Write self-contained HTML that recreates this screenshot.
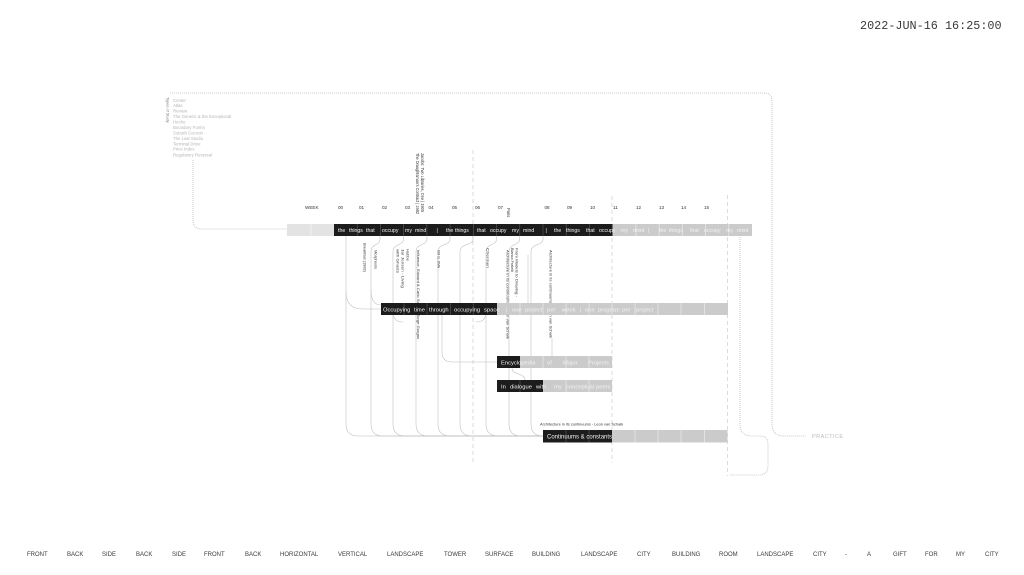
<!DOCTYPE html>
<html>
<head>
<meta charset="utf-8">
<style>
  html,body{margin:0;padding:0;background:#fff;}
  body{width:1024px;height:575px;overflow:hidden;}
  svg{display:block;}
  text{font-family:"Liberation Sans",sans-serif;}
  .mono{font-family:"Liberation Mono",monospace;}
</style>
</head>
<body>
<svg width="1024" height="575" viewBox="0 0 1024 575" xmlns="http://www.w3.org/2000/svg">
  <rect width="1024" height="575" fill="#fff"/>

  <!-- date -->
  <text class="mono" x="860" y="29" font-size="11.8" fill="#3a3a3a">2022-JUN-16 16:25:00</text>

  <!-- top-left list -->
  <text transform="translate(166.5,97) rotate(90)" font-size="3.9" fill="#777">Types of Study</text>
  <g font-size="4.3" fill="#b5b5b5">
    <text x="173" y="102">Center</text>
    <text x="173" y="107">Atlas</text>
    <text x="173" y="112.5">Review</text>
    <text x="173" y="118">The Generic &amp; the Exceptional</text>
    <text x="173" y="123.5">Hecho</text>
    <text x="173" y="129">Boundary Forms</text>
    <text x="173" y="134.5">Suburb Cocoon</text>
    <text x="173" y="140">The Last Studio</text>
    <text x="173" y="145.3">Terminal Drive</text>
    <text x="173" y="150.7">Price Index</text>
    <text x="173" y="156.5">Regulatory Reversal</text>
  </g>

  <!-- dotted connectors -->
  <g fill="none" stroke="#9a9a9a" stroke-width="0.55" stroke-dasharray="1 1">
    <path d="M170,93 H764 Q772,93 772,101 V424 Q772,436 784,436 H806"/>
    <path d="M193,160 V220 Q193,229 202,229 H288"/>
    <path d="M740,237 V424 Q740,436 752,436 H760 Q768,436 768,444 V466 Q768,475 759,475 H729"/>
  </g>
  <text x="812" y="438" font-size="5.6" fill="#bdbdbd" letter-spacing="0.4">PRACTICE</text>

  <!-- dashed column guides -->
  <g stroke="#c4c4c4" stroke-width="0.6" stroke-dasharray="4 3" fill="none">
    <line x1="473" y1="150" x2="473" y2="463"/>
    <line x1="612" y1="196" x2="612" y2="463"/>
    <line x1="727.5" y1="195" x2="727.5" y2="476"/>
  </g>

  <!-- connectors -->
  <g fill="none" stroke="#bdbdbd" stroke-width="0.55">
    <!-- long lines to Continuums -->
    <path d="M346,236 V424 Q346,436 358,436 H543"/>
    <path d="M380,236 V239 C380,246 371,243 371,252 V424 Q371,436 383,436 H543"/>
    <path d="M403.5,236 V239 C403.5,246 393,243 393,252 V424 Q393,436 405,436 H543"/>
    <path d="M427,236 V239 C427,246 416,243 416,252 V424 Q416,436 428,436 H543"/>
    <path d="M450,236 V239 C450,246 438,243 438,252 V424 Q438,436 450,436 H543"/>
    <path d="M473,236 V239 C473,246 460,243 460,252 V424 Q460,436 472,436 H543"/>
    <path d="M496.5,236 V239 C496.5,246 486,243 486,252 V424 Q486,436 498,436 H543"/>
    <path d="M519.5,236 V239 C519.5,246 509,243 509,252 V424 Q509,436 521,436 H543"/>
    <path d="M543,236 V239 C543,246 531,243 531,252 V424 Q531,436 543,436"/>
    <!-- branches into middle bar -->
    <path d="M346,292 Q346,309 363,309 H381"/>
    <path d="M371,290 Q371,305 381,305"/>
    <!-- under middle bar -->
    <path d="M393,312 Q393,322 403,322"/>
    <path d="M486,312 Q486,322 476,322"/>
    <!-- to Encyclopedia -->
    <path d="M442,315 V352 Q442,362 452,362 H497"/>
    <!-- Encyclopedia to In dialogue -->
    <path d="M512,368 C512,375 525,373 525,380"/>
    <line x1="552" y1="338" x2="552" y2="356"/>
    <line x1="528" y1="255" x2="528" y2="303"/>
  </g>

  <!-- WEEK row -->
  <g font-size="4.6" fill="#333">
    <text x="305" y="209">WEEK</text>
    <text x="338" y="209">00</text>
    <text x="359" y="209">01</text>
    <text x="382" y="209">02</text>
    <text x="405" y="209">03</text>
    <text x="428.5" y="209">04</text>
    <text x="452" y="209">05</text>
    <text x="475" y="209">06</text>
    <text x="498" y="209">07</text>
    <text x="544.5" y="209">08</text>
    <text x="567" y="209">09</text>
    <text x="590" y="209">10</text>
    <text x="613" y="209">11</text>
    <text x="636" y="209">12</text>
    <text x="659" y="209">13</text>
    <text x="681" y="209">14</text>
    <text x="704" y="209">15</text>
  </g>

  <!-- vertical labels above bar -->
  <g font-size="4.1" fill="#333">
    <text transform="translate(421,153) rotate(90)" textLength="59" lengthAdjust="spacingAndGlyphs">Jacobs: Two Libraries, One | 1905</text>
    <text transform="translate(416,153) rotate(90)" textLength="61" lengthAdjust="spacingAndGlyphs">The Draughtsman's Contract | 1982</text>
    <text transform="translate(507,208) rotate(90)">Paris</text>
  </g>

  <!-- TOP BAR -->
  <rect x="287" y="224" width="47" height="12" fill="#e3e3e3"/>
  <line x1="311" y1="224" x2="311" y2="236" stroke="#f4f4f4" stroke-width="0.8"/>
  <rect x="334" y="224" width="278.5" height="12" fill="#1c1c1c"/>
  <rect x="612.5" y="224" width="139.5" height="12" fill="#cbcbcb"/>
  <g stroke="#5a5a5a" stroke-width="0.6">
    <line x1="357.2" y1="224" x2="357.2" y2="236"/>
    <line x1="380.4" y1="224" x2="380.4" y2="236"/>
    <line x1="403.7" y1="224" x2="403.7" y2="236"/>
    <line x1="426.9" y1="224" x2="426.9" y2="236"/>
    <line x1="450.1" y1="224" x2="450.1" y2="236"/>
    <line x1="473.3" y1="224" x2="473.3" y2="236"/>
    <line x1="496.6" y1="224" x2="496.6" y2="236"/>
    <line x1="519.8" y1="224" x2="519.8" y2="236"/>
    <line x1="543" y1="224" x2="543" y2="236"/>
    <line x1="566.2" y1="224" x2="566.2" y2="236"/>
    <line x1="589.4" y1="224" x2="589.4" y2="236"/>
  </g>
  <g stroke="#ececec" stroke-width="0.7">
    <line x1="635.9" y1="224" x2="635.9" y2="236"/>
    <line x1="659.1" y1="224" x2="659.1" y2="236"/>
    <line x1="682.3" y1="224" x2="682.3" y2="236"/>
    <line x1="705.6" y1="224" x2="705.6" y2="236"/>
    <line x1="728.8" y1="224" x2="728.8" y2="236"/>
  </g>
  <g font-size="5.2" fill="#f2f2f2">
    <text x="338" y="232">the</text>
    <text x="349" y="232">things</text>
    <text x="366" y="232">that</text>
    <text x="382" y="232">occupy</text>
    <text x="405" y="232">my</text>
    <text x="415" y="232">mind</text>
    <text x="436.5" y="232">|</text>
    <text x="446" y="232">the</text>
    <text x="455" y="232">things</text>
    <text x="477" y="232">that</text>
    <text x="490" y="232">occupy</text>
    <text x="512" y="232">my</text>
    <text x="523" y="232">mind</text>
    <text x="545.5" y="232">|</text>
    <text x="554" y="232">the</text>
    <text x="566" y="232">things</text>
    <text x="586" y="232">that</text>
    <text x="599" y="232">occupy</text>
    <text x="621" y="232">my</text>
    <text x="633" y="232">mind</text>
    <text x="648" y="232">|</text>
    <text x="659" y="232">the</text>
    <text x="669" y="232">things</text>
    <text x="690" y="232">that</text>
    <text x="704" y="232">occupy</text>
    <text x="726" y="232">my</text>
    <text x="737" y="232">mind</text>
  </g>

  <!-- vertical labels below bar -->
  <g font-size="4" fill="#3a3a3a">
    <text transform="translate(363.5,243) rotate(90)" textLength="29" lengthAdjust="spacingAndGlyphs">Breakfast (1982)</text>
    <text transform="translate(374.5,250) rotate(90)" textLength="19" lengthAdjust="spacingAndGlyphs">Morphosis</text>
    <text transform="translate(406.5,249) rotate(90)">Hubbe</text>
    <text transform="translate(401.5,249) rotate(90)" textLength="39" lengthAdjust="spacingAndGlyphs">Jar Jensen - Living</text>
    <text transform="translate(396.5,249) rotate(90)" textLength="24" lengthAdjust="spacingAndGlyphs">with Ghosts</text>
    <text transform="translate(417,250) rotate(90)" textLength="89" lengthAdjust="spacingAndGlyphs">Influence, Edward &amp; Carlo Scarpa, Jorge Gorgas</text>
    <text transform="translate(437.5,250) rotate(90)" textLength="18" lengthAdjust="spacingAndGlyphs">OM UL OMA</text>
    <text transform="translate(486.5,248) rotate(90)" textLength="20" lengthAdjust="spacingAndGlyphs">Chermen</text>
    <text transform="translate(515.5,248) rotate(90)" textLength="49" lengthAdjust="spacingAndGlyphs">From Models to Drawing -</text>
    <text transform="translate(511,248) rotate(90)" textLength="24" lengthAdjust="spacingAndGlyphs">Bianca Fratelli</text>
    <text transform="translate(506.5,250) rotate(90)" textLength="89" lengthAdjust="spacingAndGlyphs">Architecture in its continuums - Leon van Schaik</text>
    <text transform="translate(549.5,250) rotate(90)" textLength="88" lengthAdjust="spacingAndGlyphs">Architecture in its continuums - Leon van Schaik</text>
  </g>

  <!-- MIDDLE BAR -->
  <rect x="381" y="303" width="116" height="12" fill="#1c1c1c"/>
  <rect x="497" y="303" width="231" height="12" fill="#cbcbcb"/>
  <g stroke="#5a5a5a" stroke-width="0.6">
    <line x1="404" y1="303" x2="404" y2="315"/>
    <line x1="427" y1="303" x2="427" y2="315"/>
    <line x1="450.5" y1="303" x2="450.5" y2="315"/>
    <line x1="473.5" y1="303" x2="473.5" y2="315"/>
  </g>
  <g stroke="#ececec" stroke-width="0.7">
    <line x1="520" y1="303" x2="520" y2="315"/>
    <line x1="543" y1="303" x2="543" y2="315"/>
    <line x1="566" y1="303" x2="566" y2="315"/>
    <line x1="589" y1="303" x2="589" y2="315"/>
    <line x1="612" y1="303" x2="612" y2="315"/>
    <line x1="635" y1="303" x2="635" y2="315"/>
    <line x1="658" y1="303" x2="658" y2="315"/>
    <line x1="681" y1="303" x2="681" y2="315"/>
    <line x1="704.5" y1="303" x2="704.5" y2="315"/>
  </g>
  <g font-size="5.8" fill="#f2f2f2">
    <text x="383" y="311.3">Occupying</text>
    <text x="414" y="311.3">time</text>
    <text x="429" y="311.3">through</text>
    <text x="454" y="311.3">occupying</text>
    <text x="484" y="311.3">space</text>
    <text x="506" y="311.3">|</text>
    <text x="512" y="311.3">one</text>
    <text x="525" y="311.3">project</text>
    <text x="547" y="311.3">per</text>
    <text x="562" y="311.3">week</text>
    <text x="580" y="311.3">|</text>
    <text x="585" y="311.3">one</text>
    <text x="598" y="311.3">program</text>
    <text x="622" y="311.3">per</text>
    <text x="636" y="311.3">project</text>
  </g>

  <!-- ENCYCLOPEDIA BAR -->
  <rect x="497" y="356" width="23" height="12" fill="#1c1c1c"/>
  <rect x="520" y="356" width="92" height="12" fill="#cbcbcb"/>
  <g stroke="#ececec" stroke-width="0.7">
    <line x1="543" y1="356" x2="543" y2="368"/>
    <line x1="566" y1="356" x2="566" y2="368"/>
    <line x1="589" y1="356" x2="589" y2="368"/>
  </g>
  <g font-size="5.8" fill="#f2f2f2">
    <text x="501" y="364.3">Encyclopedia</text>
    <text x="547" y="364.3">of</text>
    <text x="563" y="364.3">Major</text>
    <text x="588" y="364.3">Projects</text>
  </g>

  <!-- IN DIALOGUE BAR -->
  <rect x="497" y="380" width="46" height="12" fill="#1c1c1c"/>
  <rect x="543" y="380" width="69" height="12" fill="#cbcbcb"/>
  <line x1="520" y1="380" x2="520" y2="392" stroke="#5a5a5a" stroke-width="0.6"/>
  <g stroke="#ececec" stroke-width="0.7">
    <line x1="566" y1="380" x2="566" y2="392"/>
    <line x1="589" y1="380" x2="589" y2="392"/>
  </g>
  <g font-size="5.8" fill="#f2f2f2">
    <text x="501" y="388.3">In</text>
    <text x="510" y="388.3">dialogue</text>
    <text x="536" y="388.3">with</text>
    <text x="554" y="388.3">my</text>
    <text x="566" y="388.3">conceptual</text>
    <text x="596" y="388.3">peers</text>
  </g>

  <!-- CONTINUUMS BAR -->
  <text x="540" y="425.5" font-size="3.9" fill="#333">Architecture in its continuums - Leon van Schaik</text>
  <rect x="543" y="430" width="69" height="12.5" fill="#1c1c1c"/>
  <rect x="612" y="430" width="115.5" height="12.5" fill="#cbcbcb"/>
  <g stroke="#5a5a5a" stroke-width="0.6">
    <line x1="566" y1="430" x2="566" y2="442.5"/>
    <line x1="589" y1="430" x2="589" y2="442.5"/>
  </g>
  <g stroke="#ececec" stroke-width="0.7">
    <line x1="635" y1="430" x2="635" y2="442.5"/>
    <line x1="658" y1="430" x2="658" y2="442.5"/>
    <line x1="681" y1="430" x2="681" y2="442.5"/>
    <line x1="704.5" y1="430" x2="704.5" y2="442.5"/>
  </g>
  <text x="547" y="438.6" font-size="6" fill="#f2f2f2">Continuums &amp; constants</text>

  <!-- bottom row -->
  <g font-size="6" fill="#3a3a3a">
    <text x="27" y="556">FRONT</text>
    <text x="67" y="556">BACK</text>
    <text x="102" y="556">SIDE</text>
    <text x="136" y="556">BACK</text>
    <text x="172" y="556">SIDE</text>
    <text x="204" y="556">FRONT</text>
    <text x="245" y="556">BACK</text>
    <text x="280" y="556">HORIZONTAL</text>
    <text x="338" y="556">VERTICAL</text>
    <text x="387" y="556">LANDSCAPE</text>
    <text x="444" y="556">TOWER</text>
    <text x="485" y="556">SURFACE</text>
    <text x="532" y="556">BUILDING</text>
    <text x="581" y="556">LANDSCAPE</text>
    <text x="637" y="556">CITY</text>
    <text x="672" y="556">BUILDING</text>
    <text x="719" y="556">ROOM</text>
    <text x="757" y="556">LANDSCAPE</text>
    <text x="813" y="556">CITY</text>
    <text x="845" y="556">-</text>
    <text x="867" y="556">A</text>
    <text x="893" y="556">GIFT</text>
    <text x="925" y="556">FOR</text>
    <text x="956" y="556">MY</text>
    <text x="985" y="556">CITY</text>
  </g>
</svg>
</body>
</html>
